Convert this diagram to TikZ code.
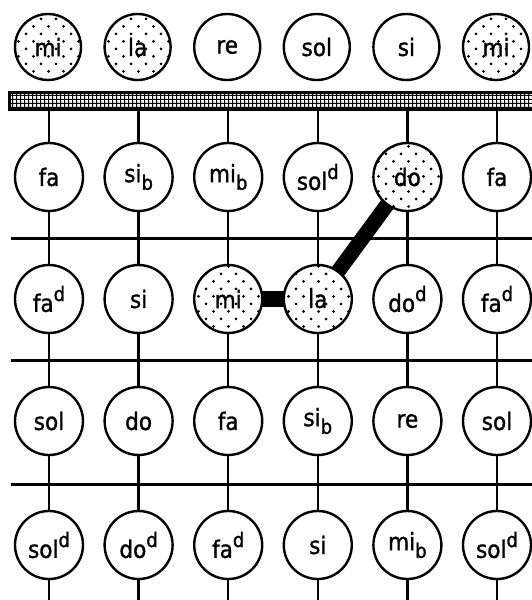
\documentclass[tikz,border=0pt]{standalone}
\usepackage{fontspec}
\newfontfamily\nf[FakeBold=1.2,FakeStretch=0.9]{DejaVu Sans}
\usetikzlibrary{patterns,backgrounds}
\pgfdeclarepatternformonly{sparsedots}{\pgfpoint{-2pt}{-2pt}}{\pgfpoint{17pt}{17pt}}{\pgfpoint{15pt}{15pt}}{%
  \pgfpathcircle{\pgfpoint{3.5pt}{3.5pt}}{1.5pt}%
  \pgfpathcircle{\pgfpoint{11pt}{11pt}}{1.5pt}%
  \pgfusepath{fill}}
\pgfdeclarepatternformonly{barcells}{\pgfpoint{-1pt}{-1pt}}{\pgfpoint{5pt}{5pt}}{\pgfpoint{4pt}{4pt}}{%
  \pgfpathrectangle{\pgfpoint{0pt}{0pt}}{\pgfpoint{4pt}{1pt}}%
  \pgfpathrectangle{\pgfpoint{0pt}{0pt}}{\pgfpoint{1pt}{4pt}}%
  \pgfusepath{fill}}
\newcommand\nsup[2]{#1\raisebox{0.45em}{\fontsize{20}{20}\selectfont #2}}
\newcommand\nsub[2]{#1\raisebox{-0.32em}{\fontsize{20}{20}\selectfont #2}}
\begin{document}
\begin{tikzpicture}[x=1pt,y=-1pt,
  note/.style={circle,draw,line width=2.4pt,minimum size=68pt,inner sep=0pt,fill=white,
    font=\nf\fontsize{24}{24}\selectfont},
  topnote/.style={note,minimum size=66pt},
  hit/.style={note,postaction={pattern=sparsedots}},
  tophit/.style={topnote,postaction={pattern=sparsedots}},
  barbox/.style={rectangle,draw,line width=2.5pt,inner sep=0pt,
    preaction={fill=white},pattern=barcells},
  stem/.style={line width=2.4pt},
  hline/.style={line width=3pt},
  link/.style={line width=16pt}]
\useasboundingbox (0,0) rectangle (531,600);
% top row
\foreach \lab/\st [count=\j] in {mi/tophit,la/tophit,re/topnote,sol/topnote,si/topnote,mi/tophit}
  \node[\st] (n-1-\j) at ({48+89.6*(\j-1)},47) {\lab};
% bar
\node[barbox,anchor=north west,minimum width=530pt,minimum height=17pt] (bar) at (8,91) {};
% rows 2-5
\foreach \lab/\st [count=\j] in {fa/note,\nsub{si}{b}/note,\nsub{mi}{b}/note,\nsup{sol}{d}/note,do/hit,fa/note}
  \node[\st] (n-2-\j) at ({49+89.6*(\j-1)},177) {\lab};
\foreach \lab/\st [count=\j] in {\nsup{fa}{d}/note,si/note,mi/hit,la/hit,\nsup{do}{d}/note,\nsup{fa}{d}/note}
  \node[\st] (n-3-\j) at ({49+89.6*(\j-1)},299) {\lab};
\foreach \lab/\st [count=\j] in {sol/note,do/note,fa/note,\nsub{si}{b}/note,re/note,sol/note}
  \node[\st] (n-4-\j) at ({49+89.6*(\j-1)},421) {\lab};
\foreach \lab/\st [count=\j] in {\nsup{sol}{d}/note,\nsup{do}{d}/note,\nsup{fa}{d}/note,si/note,\nsub{mi}{b}/note,\nsup{sol}{d}/note}
  \node[\st] (n-5-\j) at ({49+89.6*(\j-1)},545) {\lab};
% horizontal lines
\coordinate (hl1) at (11,238); \coordinate (hr1) at (535,238);
\coordinate (hl2) at (11,360); \coordinate (hr2) at (535,360);
\coordinate (hl3) at (11,484); \coordinate (hr3) at (535,484);
\coordinate (bot) at (0,602);
\begin{scope}[on background layer]
  \draw[hline] (hl1) -- (hr1);
  \draw[hline] (hl2) -- (hr2);
  \draw[hline] (hl3) -- (hr3);
  \draw[link] (n-3-3.center) -- (n-3-4.center);
  \draw[link,line width=15pt] (n-3-4.center) -- (n-2-5.center);
\end{scope}
% vertical stems
\foreach \j in {1,...,6} {
  \draw[stem] (bar.south -| n-2-\j) -- (n-2-\j);
  \draw[stem] (n-2-\j) -- (n-3-\j);
  \draw[stem] (n-3-\j) -- (n-4-\j);
  \draw[stem] (n-4-\j) -- (n-5-\j);
  \draw[stem] (n-5-\j) -- (n-5-\j |- bot);
}
\end{tikzpicture}
\end{document}
